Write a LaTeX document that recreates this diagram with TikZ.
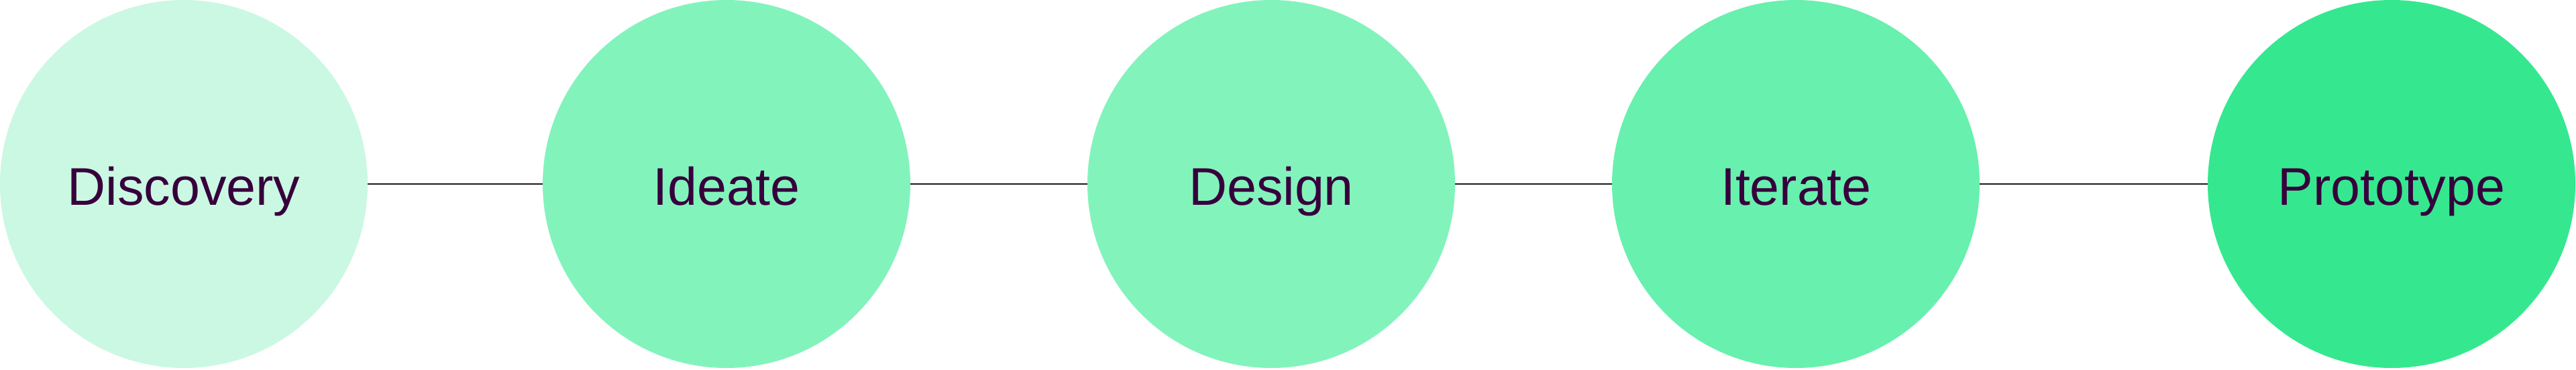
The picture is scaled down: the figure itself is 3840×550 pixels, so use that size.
\documentclass[tikz,border=0pt]{standalone}
\usepackage{fontspec}
\setmainfont{Liberation Sans}
\definecolor{cDisc}{HTML}{CBF8E2}
\definecolor{cIdea}{HTML}{83F3BC}
\definecolor{cDesi}{HTML}{83F3BC}
\definecolor{cIter}{HTML}{68F0AE}
\definecolor{cProt}{HTML}{35E88F}
\definecolor{txt}{HTML}{37003C}
\definecolor{linec}{HTML}{1A1A1A}
\begin{document}
\begin{tikzpicture}[x=1pt,y=1pt,
  stage/.style={circle, minimum size=548pt, inner sep=0pt, text=txt,
    font=\fontsize{79}{90}\selectfont, text height=62pt, text depth=0pt},
  link/.style={draw=linec, line width=2pt}]
\useasboundingbox (0,0) rectangle (3840,550);
\node[stage, fill=cDisc] (s1) at (274,276) {Discovery};
\node[stage, fill=cIdea] (s2) at (1083,276) {Ideate};
\node[stage, fill=cDesi] (s3) at (1895,276) {Design};
\node[stage, fill=cIter] (s4) at (2677,276) {Iterate};
\node[stage, fill=cProt] (s5) at (3565,276) {Prototype};
\draw[link] (s1) -- (s2);
\draw[link] (s2) -- (s3);
\draw[link] (s3) -- (s4);
\draw[link] (s4) -- (s5);
\end{tikzpicture}
\end{document}
